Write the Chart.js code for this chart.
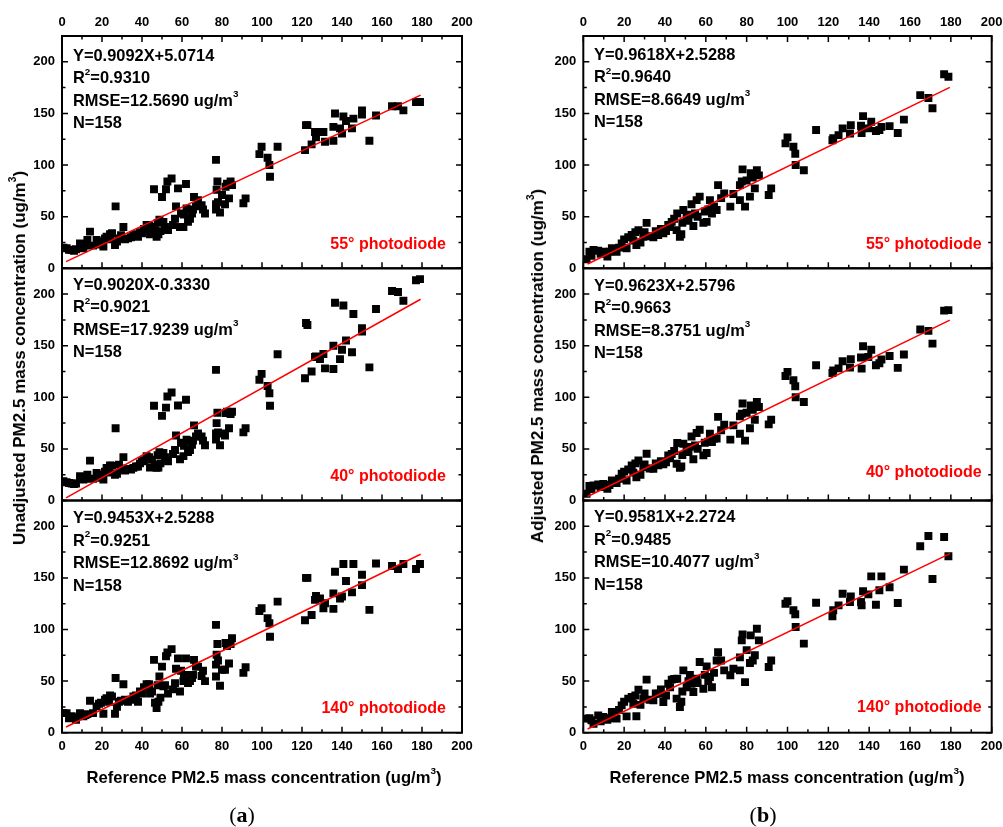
<!DOCTYPE html>
<html>
<head>
<meta charset="utf-8">
<title>PM2.5 scatter comparison</title>
<script src="https://cdn.jsdelivr.net/npm/chart.js@4.4.1/dist/chart.umd.min.js"></script>
<style>
  html, body { margin: 0; padding: 0; background: #fff; overflow: hidden; }
  #wrap { position: relative; width: 1003px; height: 827px; }
  canvas { position: absolute; left: 0; top: 0; }
  .txt { position: absolute; font-family: "Liberation Sans", Arial, sans-serif; font-weight: bold; color: #000; white-space: nowrap; z-index: 5; }
  .stats { font-size: 16.4px; line-height: 22.5px; }
  .diode { font-size: 16px; line-height: 20px; color: #ff0000; text-align: right; }
  .xtitle { font-size: 16.6px; transform: translate(-50%, -50%); }
  .ytitle { font-size: 17px; transform: translate(-50%, -50%) rotate(-90deg); }
  .panel { position: absolute; font-family: "Liberation Serif", "DejaVu Serif", serif; font-size: 22px; transform: translate(-50%, -50%); z-index: 5; }
  sup { font-size: 0.6em; line-height: 0; position: relative; top: -0.2em; }
</style>
</head>
<body>
<div id="wrap">
  <canvas id="a1" width="1003" height="827"></canvas>
  <canvas id="a2" width="1003" height="827"></canvas>
  <canvas id="a3" width="1003" height="827"></canvas>
  <canvas id="b1" width="1003" height="827"></canvas>
  <canvas id="b2" width="1003" height="827"></canvas>
  <canvas id="b3" width="1003" height="827"></canvas>

  <div class="txt stats" style="left:73px;top:43.75px">Y=0.9092X+5.0714<br>R<sup>2</sup>=0.9310<br>RMSE=12.5690 ug/m<sup>3</sup><br>N=158</div>
  <div class="txt stats" style="left:73px;top:272.75px">Y=0.9020X-0.3330<br>R<sup>2</sup>=0.9021<br>RMSE=17.9239 ug/m<sup>3</sup><br>N=158</div>
  <div class="txt stats" style="left:73px;top:506px">Y=0.9453X+2.5288<br>R<sup>2</sup>=0.9251<br>RMSE=12.8692 ug/m<sup>3</sup><br>N=158</div>
  <div class="txt stats" style="left:594px;top:42.5px">Y=0.9618X+2.5288<br>R<sup>2</sup>=0.9640<br>RMSE=8.6649 ug/m<sup>3</sup><br>N=158</div>
  <div class="txt stats" style="left:594px;top:273.5px">Y=0.9623X+2.5796<br>R<sup>2</sup>=0.9663<br>RMSE=8.3751 ug/m<sup>3</sup><br>N=158</div>
  <div class="txt stats" style="left:594px;top:505px">Y=0.9581X+2.2724<br>R<sup>2</sup>=0.9485<br>RMSE=10.4077 ug/m<sup>3</sup><br>N=158</div>

  <div class="txt diode" style="right:557px;top:234.3px">55° photodiode</div>
  <div class="txt diode" style="right:557px;top:465.7px">40° photodiode</div>
  <div class="txt diode" style="right:557px;top:698.3px">140° photodiode</div>
  <div class="txt diode" style="right:21.3px;top:234.3px">55° photodiode</div>
  <div class="txt diode" style="right:21.3px;top:462.3px">40° photodiode</div>
  <div class="txt diode" style="right:21.3px;top:697.3px">140° photodiode</div>

  <div class="txt xtitle" style="left:264px;top:778px">Reference PM2.5 mass concentration (ug/m<sup>3</sup>)</div>
  <div class="txt xtitle" style="left:787px;top:778px">Reference PM2.5 mass concentration (ug/m<sup>3</sup>)</div>
  <div class="txt ytitle" style="left:20px;top:358px">Unadjusted PM2.5 mass concentration (ug/m<sup>3</sup>)</div>
  <div class="txt ytitle" style="left:538px;top:366px">Adjusted PM2.5 mass concentration (ug/m<sup>3</sup>)</div>

  <div class="panel" style="left:242px;top:815px">(<b>a</b>)</div>
  <div class="panel" style="left:763px;top:815px">(<b>b</b>)</div>
</div>

<script>
// reference concentrations (a)
const refXA = [
  0.7, 2.3, 3.5, 4.8, 6, 7, 9, 10.7, 11.7, 12.7,
  14, 15.5, 17.3, 18.5, 19.5, 20.7, 21.5, 22.3, 23.5, 24,
  25, 26.5, 26.8, 27.5, 28.5, 29.5, 30.7, 31.5, 33, 34.5,
  35.7, 37, 38, 39, 40, 41, 42.3, 43.5, 44, 45,
  46, 46.5, 47.3, 47.8, 48.2, 48.7, 49.2, 50, 50.7, 51.5,
  52, 52.7, 53, 54.8, 55.5, 56.5, 57, 58, 59, 59.5,
  60.7, 61, 62, 62.3, 63, 64, 65, 65.5, 66, 67,
  68, 69.8, 70.5, 71.5, 77, 77, 77, 77.3, 77.7, 78,
  79, 80, 81.5, 81.8, 82.5, 83.5, 84.3, 85, 90.7, 91.8,
  98.7, 99.8, 102.8, 103.7, 104, 107.8, 121.5, 122, 122.7, 124.8,
  126.5, 127, 129, 130.7, 131.5, 135.7, 135.7, 136.5, 139, 140,
  140.7, 142, 145, 145.7, 150, 150, 153.7, 157, 165, 168,
  170.7, 177, 179
];

// unadjusted sensor readings
const unadj55 = [
  20, 19.4, 18, 17.7, 17, 18.4, 24, 19.4, 22, 27.4,
  35.5, 22, 27.4, 23, 26, 21, 29, 30.6, 28, 33,
  34, 22.6, 60, 26, 29, 32, 40, 28, 29, 30,
  32, 33, 30.6, 35, 34, 38, 42, 41, 33, 40,
  76.5, 37, 30.6, 44, 33, 47, 36, 69, 45, 40,
  76.5, 84, 37, 87, 42, 48, 60, 77.4, 40, 53,
  40, 52, 81.6, 58, 45, 48, 53, 57, 69, 60,
  66, 61, 57, 53, 105, 62, 57, 76, 84, 64,
  54, 71, 62, 79, 82, 67.7, 84, 80.6, 63, 67.7,
  110.6, 117.7, 107, 100, 88.7, 117.7, 114.5, 138.7, 138.7, 120,
  132, 127, 132, 132, 122.6, 137, 123.5, 150, 135.5, 130.6,
  147, 142.6, 135.5, 145, 153, 149, 123.5, 148, 157, 157,
  153, 161, 161
];
const unadj40 = [
  18.7, 17.7, 17, 16.4, 16, 16.4, 23.5, 20.3, 21, 25,
  38.6, 21, 26.7, 22, 25, 20.3, 28, 31.6, 27, 34,
  33.8, 25, 70, 26, 34.8, 31, 42, 29, 30.6, 30,
  31.6, 33, 33, 36, 38, 39, 42.8, 42, 32, 39.6,
  91.8, 34.8, 31.6, 44, 32, 46.7, 36, 82, 46, 42,
  90, 100.8, 38, 104.7, 45, 49, 63, 92, 40, 56,
  43, 53, 97.6, 59, 47, 49, 54, 58, 72.8, 62,
  65, 62, 58, 53.5, 126.6, 65, 59, 75, 85, 66,
  53.5, 65, 63, 84.7, 86, 70, 83.7, 86, 66, 70,
  117, 122.7, 111, 104, 91.8, 141.7, 118.5, 172, 170, 125,
  139, 139.5, 137, 142, 128, 150, 127.5, 191.6, 137, 146,
  189, 155, 143.6, 180.7, 167, 163.6, 129, 185.5, 203, 202,
  193.5, 213.5, 214.5
];
const unadj140 = [
  19, 19, 14, 16, 15, 12.6, 19, 16, 17, 18,
  31, 19, 25.5, 28, 29, 18.4, 32, 33.5, 30, 36,
  35, 18.4, 53, 25, 30, 31, 47, 32, 30, 32,
  35, 36, 30, 40, 38, 44, 47, 47, 38, 40,
  70.6, 29, 24, 46, 30, 54.5, 34, 64, 45, 46,
  74, 77.7, 38, 81, 42, 48, 62, 72, 40, 60,
  50, 55, 72, 56, 48, 50, 53, 56, 70.6, 64,
  64, 55, 60, 50, 104.5, 66, 54.5, 75.5, 86, 70,
  45.5, 61, 61, 87, 84, 67, 86, 91.6, 58, 63.5,
  118, 120.6, 111, 106, 93, 127, 109, 150, 150, 114,
  128.7, 132.6, 130, 120.6, 125.5, 135, 120, 156, 130, 132,
  163.5, 147, 136, 163.5, 153, 143, 119, 164, 161.6, 158.7,
  163.5, 158.7, 163.5
];

// reference concentrations (b)
const refXB = [
  1.6, 3, 4, 5, 7.3, 8.5, 9.8, 11.8, 12.8, 14,
  16.3, 17.5, 18.8, 20, 21.2, 22, 23.7, 24.5, 25.5, 26,
  27, 28, 29.4, 30, 31, 32.5, 34.3, 35.5, 36.7, 38,
  39.2, 40.5, 41.6, 42.5, 43.3, 44.5, 45.7, 46, 47.3, 48,
  48.5, 49, 50.6, 51.5, 52.2, 53, 53.9, 54.7, 55.5, 56,
  57, 58.8, 59.5, 60.4, 61.2, 62, 63, 64, 65.3, 66,
  67.5, 69, 72, 73.5, 76.7, 76.7, 77.6, 78, 79.2, 80,
  81.6, 82, 83, 84, 85, 86, 90.8, 92, 99, 100,
  102.9, 103.8, 104, 108, 114, 122, 122.4, 125, 127, 130.6,
  131, 136, 136.3, 137, 139.6, 141, 143.3, 145, 146, 150,
  154, 157, 165, 169, 171, 176.7, 178.8
];

// adjusted sensor readings
const adj55 = [
  8.7, 16, 12, 17.7, 17, 14, 16, 11.3, 16, 19.4,
  16, 20, 24, 28, 19.4, 30, 32.3, 27, 35, 22.6,
  37, 25, 30.6, 35, 44, 31, 30, 36, 32.3, 38,
  34, 36, 42, 40, 45, 48, 37, 53, 30.6, 33,
  44, 56.5, 50.6, 46, 52, 62, 41, 53, 66, 50,
  69.4, 44, 55, 45, 57, 66, 53, 60, 56.5, 80.6,
  68, 72.6, 59.7, 72, 80.6, 66, 84, 95.8, 59.7, 85,
  69.4, 92, 88, 77.4, 95, 90, 71, 77.4, 121, 126.8,
  117.7, 111, 100, 95, 134, 124, 126, 129, 135.5, 130.6,
  138.7, 138, 131, 147.4, 135.5, 142, 133, 134, 137, 137.7,
  131, 144, 167.7, 165, 155, 188, 185.5
];
const adj40 = [
  6.5, 14, 11, 14.6, 15.5, 13, 16, 11.3, 15, 19.4,
  16.8, 21, 26, 28, 19.4, 30, 34, 27, 36, 22.6,
  38.8, 25, 32.4, 35, 45.3, 31, 30.7, 36, 34, 38,
  35, 37, 43.7, 41, 45, 48, 35.6, 55.7, 31.7, 33,
  44, 55, 50, 47, 52, 62, 40, 53.4, 65.4, 50,
  68.6, 43.7, 56, 46, 57, 64.7, 56.6, 60, 60, 81,
  68, 73.5, 59, 72.8, 81.5, 64.7, 84, 94, 58, 85,
  70, 92, 88, 78.3, 95.5, 90.6, 73.8, 78.3, 120.7, 124.6,
  116.5, 110.7, 100, 95.5, 131, 123.6, 126, 128, 135, 128.8,
  137, 138.5, 127.8, 149.5, 139, 146, 131, 133, 136.6, 140,
  128.5, 141.4, 165.7, 164.4, 152, 184, 184.5
];
const adj140 = [
  13.6, 14, 12, 8.7, 16.8, 11, 15.2, 12.6, 14, 20,
  13.6, 22, 26.5, 30, 15.8, 33, 34.6, 28, 36, 16,
  41.7, 27, 33, 38, 51.4, 32, 31.3, 38, 37.8, 42,
  29.7, 36, 47.5, 44, 51.4, 52, 33, 52.3, 24.9, 30,
  40, 60.4, 44, 50, 56, 47.5, 39.4, 48, 52.3, 48,
  68.5, 42.6, 56, 64.3, 50, 54, 44, 58, 70, 78,
  70, 60.4, 55.6, 62, 73, 60.4, 89.5, 95.3, 49, 80,
  67.5, 94.3, 70, 75, 100.8, 89.5, 63.6, 70, 125, 127.3,
  118.6, 114.7, 102.4, 86.3, 126, 112.8, 118.6, 123.4, 134.7, 126.6,
  132, 126.6, 123.4, 137, 134, 151.5, 124, 138, 151.5, 141,
  125.7, 158, 180.6, 190.6, 149, 189.7, 171
];

// fitted line end points (x, then y per panel)
const fitXA = [2, 179.3];
const fitXB = [2.1, 179.5];
const fitA55 = [6.5, 167.7];
const fitA40 = [2.6, 195];
const fitA140 = [5.5, 172.9];
const fitB55 = [4.2, 175.2];
const fitB40 = [3.9, 174.8];
const fitB140 = [3.6, 173.5];

const xTicks = [0, 20, 40, 60, 80, 100, 120, 140, 160, 180, 200];
const yTicks = [0, 50, 100, 150, 200];

Chart.defaults.font.family = '"Liberation Sans", Arial, sans-serif';
Chart.defaults.font.size = 13;
Chart.defaults.font.weight = 'bold';
Chart.defaults.color = '#000';

// frame with inward ticks, like the original plotting software
const framePlugin = {
  id: 'frame',
  afterDatasetsDraw(chart, args, opts) {
    const ctx = chart.ctx;
    const a = chart.chartArea;
    const xs = chart.scales.x;
    const ys = chart.scales.y;
    ctx.save();
    ctx.strokeStyle = '#000';
    ctx.lineWidth = 1.5;
    ctx.beginPath();
    for (let v = 0; v <= 200; v += 10) {
      const px = xs.getPixelForValue(v);
      const len = v % 20 === 0 ? 6 : 3.5;
      ctx.moveTo(px, a.bottom);
      ctx.lineTo(px, a.bottom - len);
      if (opts.top) {
        ctx.moveTo(px, a.top);
        ctx.lineTo(px, a.top + len);
      }
    }
    for (let v = 0; v <= 225; v += 25) {
      const py = ys.getPixelForValue(v);
      const len = v % 50 === 0 ? 6 : 3.5;
      ctx.moveTo(a.left, py);
      ctx.lineTo(a.left + len, py);
      ctx.moveTo(a.right, py);
      ctx.lineTo(a.right - len, py);
    }
    ctx.stroke();
    ctx.lineWidth = 2;
    ctx.strokeRect(a.left, a.top, a.right - a.left, a.bottom - a.top);
    ctx.restore();
  }
};

const colLeft = { A: 62, B: 583.3 };
const colRight = { A: 462, B: 991.7 };
const rowTop = [36, 268.3, 500.5];
const rowBottom = [268.3, 500.5, 732.7];

function makePanel(id, col, row, xs, ys, fitX, fitY) {
  const L = colLeft[col], R = colRight[col];
  const T = rowTop[row], B = rowBottom[row];
  const yAxisW = 45;
  const xAxisH = row === 1 ? 0 : 30;
  const points = xs.map((x, i) => ({ x: x, y: ys[i] }));
  const line = fitX.map((x, i) => ({ x: x, y: fitY[i] }));

  new Chart(document.getElementById(id), {
    type: 'scatter',
    data: {
      datasets: [
        {
          type: 'line',
          data: line,
          borderColor: '#ff0000',
          borderWidth: 1.5,
          pointRadius: 0,
          fill: false,
          order: 0
        },
        {
          data: points,
          pointStyle: 'rect',
          pointRadius: 5.6,
          pointHoverRadius: 5.6,
          backgroundColor: '#000',
          borderWidth: 0,
          order: 1
        }
      ]
    },
    options: {
      responsive: false,
      animation: false,
      devicePixelRatio: 1,
      events: [],
      layout: {
        padding: {
          left: L - yAxisW,
          right: 1003 - R,
          top: row === 0 ? T - xAxisH : T,
          bottom: row === 2 ? 827 - B - xAxisH : 827 - B
        }
      },
      plugins: {
        legend: { display: false },
        tooltip: { enabled: false },
        frame: { top: row === 0 }
      },
      scales: {
        x: {
          type: 'linear',
          min: 0,
          max: 200,
          position: row === 0 ? 'top' : 'bottom',
          display: row !== 1,
          grid: { display: false, drawTicks: false },
          border: { display: false },
          afterBuildTicks: s => { s.ticks = xTicks.map(v => ({ value: v })); },
          ticks: { padding: 6, maxRotation: 0, autoSkip: false },
          afterFit: s => { s.height = xAxisH; s.paddingLeft = 0; s.paddingRight = 0; }
        },
        y: {
          type: 'linear',
          min: 0,
          max: 225,
          grid: { display: false, drawTicks: false },
          border: { display: false },
          afterBuildTicks: s => { s.ticks = yTicks.map(v => ({ value: v })); },
          ticks: { padding: 7 },
          afterFit: s => { s.width = yAxisW; s.paddingTop = 0; s.paddingBottom = 0; }
        }
      }
    },
    plugins: [framePlugin]
  });
}

makePanel('a1', 'A', 0, refXA, unadj55, fitXA, fitA55);
makePanel('a2', 'A', 1, refXA, unadj40, fitXA, fitA40);
makePanel('a3', 'A', 2, refXA, unadj140, fitXA, fitA140);
makePanel('b1', 'B', 0, refXB, adj55, fitXB, fitB55);
makePanel('b2', 'B', 1, refXB, adj40, fitXB, fitB40);
makePanel('b3', 'B', 2, refXB, adj140, fitXB, fitB140);
</script>
</body>
</html>
